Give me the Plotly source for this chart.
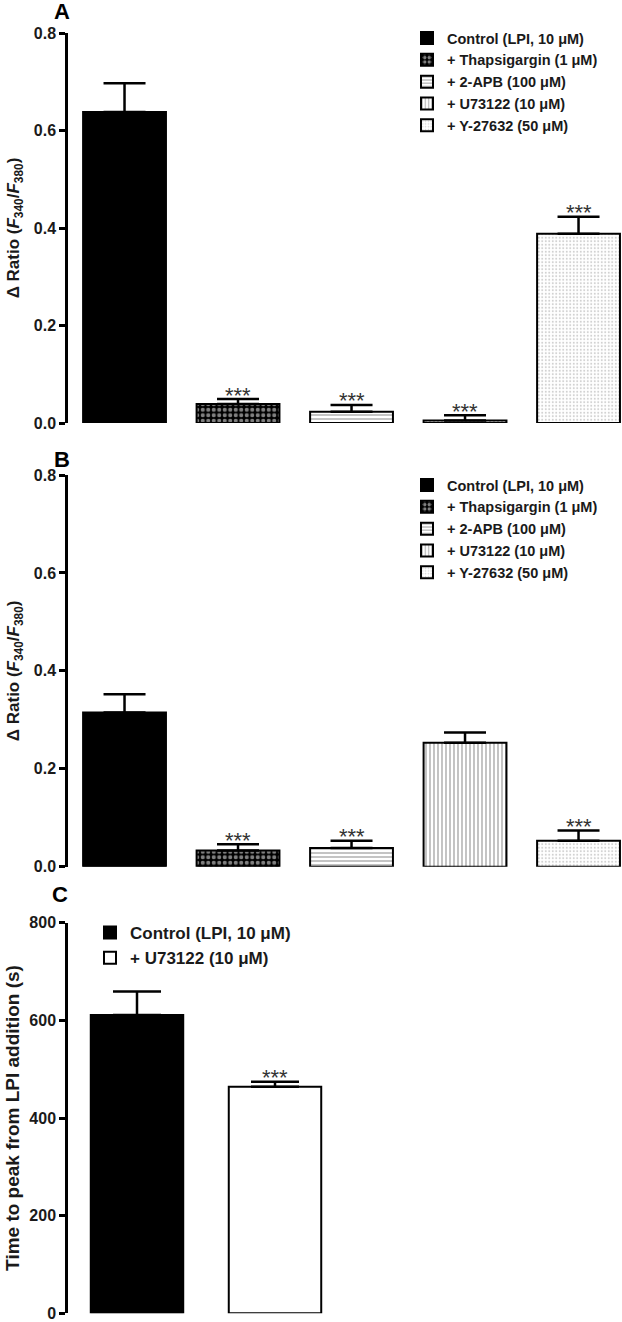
import plotly.graph_objects as go

# ---------------- data ----------------
groups_ab = ["Control (LPI, 10 \u03bcM)", "+ Thapsigargin (1 \u03bcM)", "+ 2-APB (100 \u03bcM)",
             "+ U73122 (10 \u03bcM)", "+ Y-27632 (50 \u03bcM)"]
a_mean = [0.638, 0.039, 0.023, 0.005, 0.388]
a_sem = [0.059, 0.010, 0.014, 0.011, 0.035]
a_sig = ["", "***", "***", "***", "***"]

b_mean = [0.315, 0.033, 0.038, 0.253, 0.053]
b_sem = [0.037, 0.013, 0.015, 0.021, 0.021]
b_sig = ["", "***", "***", "", "***"]

groups_c = ["Control (LPI, 10 \u03bcM)", "+ U73122 (10 \u03bcM)"]
c_mean = [611, 464]
c_sem = [48, 10]
c_sig = ["", "***"]

ab_ticks = [0.0, 0.2, 0.4, 0.6, 0.8]
c_ticks = [0, 200, 400, 600, 800]

# ---------------- styles ----------------
FONT = "Liberation Sans, Arial, sans-serif"
styles_ab = [
    dict(color="black", pattern=dict(shape="")),
    dict(color="black", pattern=dict(shape=".", fgcolor="white", bgcolor="black", size=5.5, solidity=0.45)),
    dict(color="white", pattern=dict(shape="-", fgcolor="#555555", bgcolor="white", size=4, solidity=0.35)),
    dict(color="white", pattern=dict(shape="|", fgcolor="#555555", bgcolor="white", size=4, solidity=0.35)),
    dict(color="white", pattern=dict(shape=".", fgcolor="#a0a0a0", bgcolor="white", size=3.5, solidity=0.25)),
]
styles_c = [
    dict(color="black", pattern=dict(shape="")),
    dict(color="white", pattern=dict(shape="")),
]

fig = go.Figure()


def add_panel(names, means, sems, sigs, styles, xa, ya, legend, width, capw):
    for i, (n, m, s, st) in enumerate(zip(names, means, sems, styles)):
        fig.add_trace(go.Bar(
            x=[i], y=[m], name=n, width=width,
            marker=dict(color=st["color"], pattern=st["pattern"],
                        line=dict(color="black", width=2)),
            error_y=dict(type="data", symmetric=False, array=[s], arrayminus=[0],
                         color="black", thickness=2.5, width=capw),
            xaxis=xa, yaxis=ya, legend=legend, showlegend=True,
        ))
        if sigs[i]:
            fig.add_annotation(x=i, y=m + s, xref=xa, yref=ya, text=sigs[i],
                               showarrow=False, yanchor="middle", yshift=4,
                               font=dict(family=FONT, size=22, color="#333333"))


add_panel(groups_ab, a_mean, a_sem, a_sig, styles_ab, "x", "y", "legend", 0.73, 21)
add_panel(groups_ab, b_mean, b_sem, b_sig, styles_ab, "x2", "y2", "legend2", 0.73, 21)
add_panel(groups_c, c_mean, c_sem, c_sig, styles_c, "x3", "y3", "legend3", 0.67, 24)

H = 1322.0
W = 622.0


def py(px):
    return 1 - px / H


yax_common = dict(showline=True, linecolor="black", linewidth=2.5, ticks="outside",
                  ticklen=6, tickwidth=2.5, tickcolor="black", showgrid=False,
                  zeroline=False, automargin=False,
                  tickfont=dict(family=FONT, size=16, color="#1a1a1a"))

ab_title = "<b>\u0394 Ratio (<i>F</i><sub>340</sub>/<i>F</i><sub>380</sub>)</b>"

fig.update_layout(
    width=622, height=1322,
    margin=dict(l=0, r=0, t=0, b=0, autoexpand=False),
    paper_bgcolor="white", plot_bgcolor="white",
    barmode="overlay",
    font=dict(family=FONT, color="black"),
    xaxis=dict(domain=[68 / W, 1.0], range=[-0.498, 4.383], visible=False, anchor="y"),
    xaxis2=dict(domain=[68 / W, 1.0], range=[-0.498, 4.383], visible=False, anchor="y2"),
    xaxis3=dict(domain=[68 / W, 344 / W], range=[-0.5, 1.5], visible=False, anchor="y3"),
    yaxis=dict(domain=[py(423), py(33)], range=[0, 0.8], tickvals=ab_ticks,
               ticktext=[f"<b>{v:.1f}</b>" for v in ab_ticks],
               title=dict(text=ab_title, standoff=10,
                          font=dict(family=FONT, size=17, color="#1a1a1a")),
               anchor="x", **yax_common),
    yaxis2=dict(domain=[py(866.7), py(475)], range=[0, 0.8], tickvals=ab_ticks,
                ticktext=[f"<b>{v:.1f}</b>" for v in ab_ticks],
                title=dict(text=ab_title, standoff=10,
                           font=dict(family=FONT, size=17, color="#1a1a1a")),
                anchor="x2", **yax_common),
    yaxis3=dict(domain=[py(1313.3), py(922.7)], range=[0, 800], tickvals=c_ticks,
                ticktext=[f"<b>{v}</b>" for v in c_ticks],
                title=dict(text="<b>Time to peak from LPI addition (s)</b>", standoff=5,
                           font=dict(family=FONT, size=19, color="#1a1a1a")),
                anchor="x3", **yax_common),
    legend=dict(x=407 / W, y=py(22), xanchor="left", yanchor="top",
                bgcolor="rgba(0,0,0,0)", tracegroupgap=0,
                font=dict(family=FONT, size=14.5, color="#1a1a1a", weight="bold")),
    legend2=dict(x=407 / W, y=py(469), xanchor="left", yanchor="top",
                 bgcolor="rgba(0,0,0,0)", tracegroupgap=0,
                 font=dict(family=FONT, size=14.5, color="#1a1a1a", weight="bold")),
    legend3=dict(x=90 / W, y=py(915), xanchor="left", yanchor="top",
                 bgcolor="rgba(0,0,0,0)", tracegroupgap=0,
                 font=dict(family=FONT, size=17, color="#1a1a1a", weight="bold")),
)

for lab, x, y in [("A", 62, 12), ("B", 62, 459), ("C", 60, 895)]:
    fig.add_annotation(x=x / W, y=py(y), xref="paper", yref="paper", text=f"<b>{lab}</b>",
                       showarrow=False, xanchor="center", yanchor="middle",
                       font=dict(family=FONT, size=22, color="black"))

fig.write_html("out.html", config={"displayModeBar": False},
               post_script="document.body.style.margin='0';document.body.style.overflow='hidden';")
